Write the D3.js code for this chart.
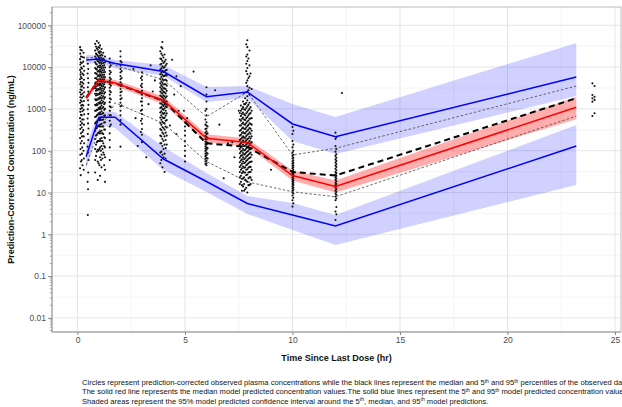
<!DOCTYPE html>
<html><head><meta charset="utf-8">
<script src="https://cdn.jsdelivr.net/npm/d3@7"></script>
<style>body{margin:0;background:#fff;} svg{display:block;font-family:"Liberation Sans",Arial,sans-serif;}</style>
</head><body><svg id="c" width="622" height="407"></svg>
<script>
// ---------------- data ----------------
const binTimes     = [0.4, 1.0, 1.75, 4, 6, 7.9, 10, 12, 23.2];
const predMedian   = [1820, 4900, 4170, 1590, 198, 157, 25.5, 13.9, 1090];
const predMedianLo = [1540, 4150, 3530, 1276, 159, 126, 19.4, 10, 565];
const predMedianHi = [2150, 5780, 4920, 1980, 247, 196, 33.6, 19.3, 1960];
const pred95       = [14800, 15600, 12200, 7850, 1960, 2540, 436, 216, 5800];
const pred95Lo     = [11860, 12530, 9360, 6130, 1460, 1820, 171, 83.4, 2040];
const pred95Hi     = [19450, 18900, 14800, 11220, 3340, 3530, 1310, 640, 37700];
const pred5        = [71.8, 630, 630, 63.3, 18.3, 5.45, 2.9, 1.58, 129];
const pred5Lo      = [34.5, 412, 349, 34.5, 10.3, 3.06, 1.27, 0.555, 15.1];
const pred5Hi      = [136.8, 891, 843, 123, 29.3, 8.24, 5.61, 2.9, 412];
const obsMedian    = [1850, 4850, 4100, 1560, 150, 123, 31, 25.5, 1800];
const obs95        = [16500, 17500, 11000, 5000, 650, 2540, 79, 114, 3530];
const obs5         = [45, 300, 1400, 450, 55, 18, 10.4, 7.9, 673];

// observed prediction-corrected concentrations [time, conc]
const obsA = [[0.12,30000],[0.14,26000],[0.13,21000],[0.16,18000],[0.12,15500],[0.15,13000],[0.13,11500],[0.17,9800],[0.12,8600],[0.15,7600],[0.14,6600],[0.16,5800],[0.12,5100],[0.15,4400],[0.13,3900],[0.17,3400],[0.14,2900],[0.12,2500],[0.16,2200],[0.13,1900],[0.15,1600],[0.12,1400],[0.17,1200],[0.14,1000],[0.13,850],[0.16,720],[0.12,600],[0.15,500],[0.14,410],[0.13,330],[0.16,260],[0.12,200],[0.15,150],[0.14,110],[0.13,80],[0.16,55],[0.12,38],[0.15,26],
  [0.28,22000],[0.3,17000],[0.27,13500],[0.29,10500],[0.31,8200],[0.28,6500],[0.3,5000],[0.27,4000],[0.29,3200],[0.31,2500],[0.28,2000],[0.3,1550],[0.27,1200],[0.29,950],[0.31,740],[0.28,560],[0.3,420],[0.27,310],[0.29,220],[0.31,150],[0.28,100],[0.3,65],[0.29,35]];
const obsA2 = [[0.2,25000],[0.22,17500],[0.2,12500],[0.21,9200],[0.23,7000],[0.2,5400],[0.22,4300],[0.21,3500],[0.2,2800],[0.23,2300],[0.21,1850],[0.2,1500],[0.22,1250],[0.21,1050],[0.23,880],[0.2,700],[0.22,560],[0.21,450],[0.2,360],[0.23,280],[0.21,220],[0.2,170],[0.22,120],[0.21,85],[0.2,60],[0.23,45]];
const obsB = [[0.48,12000],[0.5,9000],[0.47,7000],[0.49,5400],[0.51,4200],[0.48,3300],[0.5,2600],[0.47,2000],[0.49,1600],[0.51,1250],[0.48,980],[0.5,760],[0.47,590],[0.49,450],[0.51,340],[0.48,250],[0.5,180],[0.47,125],[0.49,90],[0.5,30],[0.47,18],[0.49,12],[0.48,2.9],[0.52,60]];
const obsC = [[0.82,36000],[0.82,25000],[0.82,18000],[0.82,13000],[0.82,9500],[0.82,7200],[0.82,5400],[0.82,4100],[0.82,3100],[0.82,2300],[0.82,1700],[0.82,1250],[0.82,900],[0.82,640],[0.82,450],[0.82,300],[0.82,190],[0.82,110],[0.82,60],[0.82,30],
  [0.9,42000],[0.9,28000],[0.9,20000],[0.9,15000],[0.9,11500],[0.9,8800],[0.9,6800],[0.9,5200],[0.9,4000],[0.9,3000],[0.9,2300],[0.9,1700],[0.9,1300],[0.9,950],[0.9,700],[0.9,500],[0.9,350],[0.9,240],[0.9,160],[0.9,95],
  [0.98,38000],[0.98,30000],[0.98,23000],[0.98,17500],[0.98,13500],[0.98,10500],[0.98,8200],[0.98,6400],[0.98,5000],[0.98,3900],[0.98,3000],[0.98,2300],[0.98,1800],[0.98,1400],[0.98,1050],[0.98,780],[0.98,560],[0.98,400],[0.98,270],[0.98,170],[0.98,100],[0.98,50],
  [1.05,33000],[1.05,24000],[1.05,19000],[1.05,14500],[1.05,11000],[1.05,8600],[1.05,6700],[1.05,5200],[1.05,4100],[1.05,3200],[1.05,2500],[1.05,1900],[1.05,1450],[1.05,1100],[1.05,820],[1.05,600],[1.05,420],[1.05,290],[1.05,190],[1.05,120],[1.05,70],[1.05,25],
  [1.12,27000],[1.12,20000],[1.12,15500],[1.12,12000],[1.12,9300],[1.12,7300],[1.12,5700],[1.12,4500],[1.12,3500],[1.12,2700],[1.12,2100],[1.12,1600],[1.12,1200],[1.12,880],[1.12,630],[1.12,440],[1.12,300],[1.12,200],[1.12,130],[1.12,80],[1.12,40],
  [1.2,22000],[1.2,16000],[1.2,12500],[1.2,9700],[1.2,7500],[1.2,5800],[1.2,4500],[1.2,3500],[1.2,2700],[1.2,2000],[1.2,1500],[1.2,1100],[1.2,800],[1.2,560],[1.2,380],[1.2,250],[1.2,150],[1.2,90],
  [1.28,18000],[1.28,13000],[1.28,9800],[1.28,7600],[1.28,5800],[1.28,4400],[1.28,3300],[1.28,2500],[1.28,1900],[1.28,1400],[1.28,1000],[1.28,700],[1.28,480],[1.28,320],[1.28,200],[1.28,120],[1.28,70],[1.28,35],[1.28,18]];
const obsC2 = [[0.86,31000],[0.86,21000],[0.86,16000],[0.86,12000],[0.86,9000],[0.86,7000],[0.86,5500],[0.86,4300],[0.86,3400],[0.86,2700],[0.86,2100],[0.86,1600],[0.86,1200],[0.86,900],[0.86,660],[0.86,480],[0.86,340],[0.86,230],[0.86,140],[0.86,75],
  [0.94,26000],[0.94,19000],[0.94,14000],[0.94,10000],[0.94,7800],[0.94,6000],[0.94,4600],[0.94,3600],[0.94,2800],[0.94,2150],[0.94,1650],[0.94,1250],[0.94,950],[0.94,720],[0.94,530],[0.94,380],[0.94,260],[0.94,170],[0.94,105],[0.94,55],[0.94,20],
  [1.02,29000],[1.02,21500],[1.02,16500],[1.02,12500],[1.02,9800],[1.02,7700],[1.02,6000],[1.02,4700],[1.02,3700],[1.02,2900],[1.02,2250],[1.02,1750],[1.02,1350],[1.02,1000],[1.02,750],[1.02,540],[1.02,380],[1.02,260],[1.02,170],[1.02,110],[1.02,45],
  [1.09,23000],[1.09,17000],[1.09,13000],[1.09,10000],[1.09,7900],[1.09,6200],[1.09,4900],[1.09,3800],[1.09,3000],[1.09,2350],[1.09,1800],[1.09,1350],[1.09,1000],[1.09,740],[1.09,540],[1.09,380],[1.09,260],[1.09,170],[1.09,100],[1.09,60],
  [1.16,19000],[1.16,14000],[1.16,10800],[1.16,8400],[1.16,6500],[1.16,5100],[1.16,4000],[1.16,3100],[1.16,2400],[1.16,1850],[1.16,1400],[1.16,1050],[1.16,770],[1.16,550],[1.16,380],[1.16,260],[1.16,170],[1.16,110],[1.16,65],
  [1.24,15000],[1.24,11000],[1.24,8500],[1.24,6600],[1.24,5100],[1.24,3900],[1.24,3000],[1.24,2300],[1.24,1750],[1.24,1300],[1.24,950],[1.24,680],[1.24,470],[1.24,320],[1.24,210],[1.24,130],[1.24,80],[1.24,45]];
const obsD = [[1.5,16000],[1.5,12500],[1.5,10000],[1.5,8200],[1.5,6800],[1.5,5600],[1.5,4700],[1.5,3900],[1.5,3200],[1.5,2700],[1.5,2200],[1.5,1800],[1.5,1450],[1.5,1150],[1.5,900],[1.5,700],[1.5,520],[1.5,380],[1.5,260],[1.5,180],[1.5,120],[1.5,60],
  [1.55,11000],[1.55,7500],[1.55,5200],[1.55,3600],[1.55,2500],[1.55,1700],[1.55,1100],[1.55,700],[1.55,420]];
const obsE = [[2.0,24000],[2.0,18000],[2.0,14000],[2.0,11000],[2.0,9000],[2.0,7400],[2.0,6100],[2.0,5100],[2.0,4300],[2.0,3600],[2.0,3000],[2.0,2500],[2.0,2100],[2.0,1700],[2.0,1400],[2.0,1150],[2.0,900],[2.0,700],[2.0,540],[2.0,420],[2.0,125],
  [2.05,13000],[2.05,8000],[2.05,5500],[2.05,3800],[2.05,2600],[2.05,1800],[2.05,1200]];
const obsF = [[3.0,7500],[3.0,6000],[3.0,4900],[3.0,4000],[3.0,3300],[3.0,2700],[3.0,2200],[3.0,1800],[3.0,1500],[3.0,1200],[3.0,950],[3.0,750],[3.0,580],[3.0,440],[3.0,330],[3.0,240],[3.0,160],
  [2.95,5500],[2.95,3600],[2.95,2400],[2.95,1500],[2.95,900],[2.95,520],[2.95,280],
  [2.6,9000],[3.4,11000],[2.7,600],[3.3,1300],[3.5,2600],[2.8,130],[3.2,70],[3.6,4800],[2.5,3000]];
const obsG = [[3.85,24000],[3.85,16000],[3.85,11500],[3.85,8700],[3.85,6700],[3.85,5200],[3.85,4100],[3.85,3300],[3.85,2600],[3.85,2100],[3.85,1700],[3.85,1350],[3.85,1050],[3.85,820],[3.85,620],[3.85,460],[3.85,330],[3.85,230],[3.85,150],[3.85,90],[3.85,50],
  [3.95,40000],[3.95,28000],[3.95,19000],[3.95,14000],[3.95,10500],[3.95,8200],[3.95,6500],[3.95,5200],[3.95,4200],[3.95,3400],[3.95,2800],[3.95,2300],[3.95,1900],[3.95,1550],[3.95,1250],[3.95,1000],[3.95,800],[3.95,630],[3.95,490],[3.95,370],[3.95,270],[3.95,190],[3.95,130],[3.95,80],[3.95,40],
  [4.05,20000],[4.05,13500],[4.05,10000],[4.05,7800],[4.05,6100],[4.05,4900],[4.05,3900],[4.05,3100],[4.05,2500],[4.05,2000],[4.05,1600],[4.05,1300],[4.05,1030],[4.05,800],[4.05,610],[4.05,450],[4.05,320],[4.05,220],[4.05,140],[4.05,85],[4.05,31],
  [4.15,12000],[4.15,8500],[4.15,6300],[4.15,4700],[4.15,3600],[4.15,2700],[4.15,2000],[4.15,1500],[4.15,1100],[4.15,780],[4.15,540],[4.15,360],[4.15,230],[4.15,140],
  [4.4,15000],[4.6,6000],[4.5,2200],[4.7,900],[4.3,400],[4.8,3500],[4.6,250]];
const obsG2 = [[3.9,30000],[3.9,21000],[3.9,15500],[3.9,12000],[3.9,9300],[3.9,7300],[3.9,5800],[3.9,4600],[3.9,3700],[3.9,3000],[3.9,2450],[3.9,2000],[3.9,1650],[3.9,1350],[3.9,1100],[3.9,880],[3.9,700],[3.9,550],[3.9,420],[3.9,310],[3.9,220],[3.9,150],[3.9,95],[3.9,60],
  [4.0,17000],[4.0,12500],[4.0,9600],[4.0,7600],[4.0,6000],[4.0,4800],[4.0,3850],[4.0,3100],[4.0,2550],[4.0,2100],[4.0,1750],[4.0,1450],[4.0,1180],[4.0,950],[4.0,760],[4.0,600],[4.0,460],[4.0,350],[4.0,250],[4.0,170],[4.0,110],[4.0,70],
  [4.1,15000],[4.1,11000],[4.1,8400],[4.1,6500],[4.1,5000],[4.1,3900],[4.1,3000],[4.1,2350],[4.1,1850],[4.1,1450],[4.1,1150],[4.1,900],[4.1,690],[4.1,520],[4.1,380],[4.1,270],[4.1,180],[4.1,115],[4.1,65]];
const obsH = [[5.0,480],[5.0,380],[5.0,300],[5.0,230],[5.0,170],[5.0,130],[5.0,100],[5.0,75],[5.0,55],[5.1,600],[4.95,900],[5.4,7800]];
const obsI = [[6.0,3300],[6.0,2200],[6.0,1500],[6.0,1000],[6.0,700],[6.0,480],[6.0,400],[6.0,340],[6.0,290],[6.0,250],[6.0,215],[6.0,185],[6.0,160],[6.0,140],[6.0,120],[6.0,105],[6.0,90],[6.0,78],[6.0,68],[6.0,58],[6.0,50],[6.0,45],
  [6.05,380],[6.05,260],[6.05,200],[6.05,150],[6.05,115],[6.05,85],[6.05,65],
  [5.95,900],[5.95,560],[5.95,420],[5.95,330],[5.95,270],[5.95,225],[5.95,190],[5.95,165],[5.95,145],[5.95,128],[5.95,112],[5.95,98],[5.95,85],[5.95,74],[5.95,64],[5.95,55],[5.95,48],
  [6.6,420],[7.0,150],[7.2,160],[6.8,22],[7.3,70],[7.5,900],[6.4,2800]];
const obsJ = [[7.9,44000],[7.9,30000],[7.9,20000],[7.9,14000],[7.9,9500],[7.9,6800],[7.9,4800],[7.9,3500],[7.9,2600],[7.9,2000],
  [7.6,1200],[7.6,900],[7.6,680],[7.6,520],[7.6,400],[7.6,310],[7.6,240],[7.6,190],[7.6,150],[7.6,120],[7.6,95],[7.6,75],[7.6,58],[7.6,45],[7.6,35],[7.6,25],[7.6,18],
  [7.7,1500],[7.7,1100],[7.7,820],[7.7,620],[7.7,470],[7.7,360],[7.7,280],[7.7,220],[7.7,175],[7.7,140],[7.7,110],[7.7,88],[7.7,70],[7.7,55],[7.7,42],[7.7,32],[7.7,22],[7.7,14],
  [7.8,1800],[7.8,1300],[7.8,950],[7.8,700],[7.8,540],[7.8,420],[7.8,330],[7.8,260],[7.8,205],[7.8,165],[7.8,130],[7.8,105],[7.8,84],[7.8,66],[7.8,52],[7.8,40],[7.8,30],[7.8,20],[7.8,12],
  [7.9,1600],[7.9,1150],[7.9,850],[7.9,640],[7.9,500],[7.9,390],[7.9,305],[7.9,240],[7.9,190],[7.9,150],[7.9,120],[7.9,96],[7.9,76],[7.9,60],[7.9,47],[7.9,36],[7.9,27],[7.9,18],[7.9,10],
  [8.0,2200],[8.0,1400],[8.0,1000],[8.0,760],[8.0,580],[8.0,450],[8.0,350],[8.0,275],[8.0,215],[8.0,170],[8.0,135],[8.0,108],[8.0,85],[8.0,67],[8.0,53],[8.0,41],[8.0,31],[8.0,23],[8.0,15],
  [8.1,900],[8.1,600],[8.1,420],[8.1,300],[8.1,220],[8.1,160],[8.1,115],[8.1,80],[8.1,55],[8.1,35],[8.1,20],
  [8.05,7000],[7.95,5500],[8.1,3000],[7.85,12000],[8.0,25000],[7.75,2400],[9.0,35]];
const obsJ2 = [[7.55,800],[7.55,560],[7.55,400],[7.55,300],[7.55,230],[7.55,180],[7.55,140],[7.55,110],[7.55,87],[7.55,68],[7.55,53],[7.55,41],[7.55,31],[7.55,23],[7.55,16],
  [7.65,1000],[7.65,760],[7.65,580],[7.65,440],[7.65,340],[7.65,265],[7.65,205],[7.65,160],[7.65,126],[7.65,100],[7.65,79],[7.65,62],[7.65,49],[7.65,38],[7.65,29],[7.65,21],[7.65,15],[7.65,11],
  [7.75,1300],[7.75,980],[7.75,740],[7.75,560],[7.75,430],[7.75,335],[7.75,260],[7.75,205],[7.75,162],[7.75,128],[7.75,101],[7.75,80],[7.75,63],[7.75,50],[7.75,39],[7.75,30],[7.75,23],[7.75,16],[7.75,11],
  [7.85,1400],[7.85,1050],[7.85,790],[7.85,600],[7.85,460],[7.85,360],[7.85,285],[7.85,225],[7.85,178],[7.85,142],[7.85,113],[7.85,90],[7.85,72],[7.85,57],[7.85,45],[7.85,35],[7.85,26],[7.85,19],[7.85,13],
  [7.95,1250],[7.95,930],[7.95,700],[7.95,530],[7.95,410],[7.95,320],[7.95,250],[7.95,198],[7.95,157],[7.95,125],[7.95,100],[7.95,80],[7.95,64],[7.95,50],[7.95,39],[7.95,30],[7.95,22],[7.95,15],
  [8.05,1100],[8.05,800],[8.05,590],[8.05,440],[8.05,335],[8.05,255],[8.05,195],[8.05,150],[8.05,116],[8.05,90],[8.05,70],[8.05,54],[8.05,41],[8.05,31],[8.05,23],[8.05,16],
  [7.85,35000],[7.85,18000],[7.85,8000],[7.85,4200],[8.0,11000],[8.0,6000],[8.0,3200],[7.95,16000],[7.95,2800]];
const obsK = [[10.0,370],[10.0,250],[10.0,170],[10.0,120],[10.0,90],[10.0,75],[10.0,65],[10.0,56],[10.0,49],[10.0,43],[10.0,38],[10.0,33],[10.0,29],[10.0,26],[10.0,23],[10.0,20],[10.0,18],[10.0,16],[10.0,14],[10.0,12.5],[10.0,11],[10.0,10],[10.0,8.5],[10.0,6.5],[10.0,4.6],
  [10.04,300],[10.04,140],[10.04,100],[10.04,80],[10.04,68],[10.04,59],[10.04,51],[10.04,45],[10.04,40],[10.04,35],[10.04,31],[10.04,27.5],[10.04,24.5],[10.04,21.5],[10.04,19],[10.04,17],[10.04,15],[10.04,13],[10.04,11.5],[10.04,9.5],[10.04,7.5],[10.04,5.5]];
const obsL = [[12.0,270],[12.0,190],[12.0,130],[12.0,95],[12.0,75],[12.0,62],[12.0,52],[12.0,44],[12.0,37],[12.0,31],[12.0,27],[12.0,23],[12.0,20],[12.0,17],[12.0,15],[12.0,13],[12.0,11],[12.0,9.5],[12.0,8],[12.0,6.5],[12.0,3.5],[12.0,2.2],[12.3,2400],
  [12.04,210],[12.04,110],[12.04,82],[12.04,68],[12.04,57],[12.04,48],[12.04,41],[12.04,34],[12.04,29],[12.04,25],[12.04,21.5],[12.04,18.5],[12.04,16],[12.04,14],[12.04,12],[12.04,10.3],[12.04,8.8],[12.04,7.2],[12.04,4.5],[12.04,3]];
const obsM = [[23.95,4090],[24.05,3540],[23.95,2150],[24.05,1950],[23.95,1800],[24.05,1640],[23.95,1490],[24.05,785],[23.95,676]];

const xTicks = [0, 5, 10, 15, 20, 25];
const yTicks = [0.01, 0.1, 1, 10, 100, 1000, 10000, 100000];
const yTickLabels = ["0.01", "0.1", "1", "10", "100", "1000", "10000", "100000"];
const xTitle = "Time Since Last Dose (hr)";
const yTitle = "Prediction-Corrected Concentration (ng/mL)";
const captionLines = [
  "Circles represent prediction-corrected observed plasma concentrations while the black lines represent the median and 5{th} and 95{th} percentiles of the observed data.",
  "The solid red line represents the median model predicted concentration values.The solid blue lines represent the 5{th} and 95{th} model predicted concentration values.",
  "Shaded areas represent the 95% model predicted confidence interval around the 5{th}, median, and 95{th} model predictions."
];

// ---------------- drawing ----------------
const svg = d3.select("#c");
const L = 52, R = 621, T = 7, B = 332;
const x = d3.scaleLinear().domain([-1.186, 25.28]).range([L, R]);
const y = d3.scaleLog().domain([0.0046, 274000]).range([B, T]);

const g = svg.append("g");
const minorX = d3.range(0, 26, 2.5).filter(v => v % 5 !== 0);
const minorY = d3.range(-2, 5).map(k => Math.pow(10, k + 0.5));
g.selectAll(".gmx").data(minorX).join("line")
  .attr("x1", d => x(d)).attr("x2", d => x(d)).attr("y1", T).attr("y2", B)
  .attr("stroke", "#f2f2f2").attr("stroke-width", 0.8);
g.selectAll(".gmy").data(minorY).join("line")
  .attr("y1", d => y(d)).attr("y2", d => y(d)).attr("x1", L).attr("x2", R)
  .attr("stroke", "#f2f2f2").attr("stroke-width", 0.8);
g.selectAll(".gx").data(xTicks).join("line")
  .attr("x1", d => x(d)).attr("x2", d => x(d)).attr("y1", T).attr("y2", B)
  .attr("stroke", "#e6e6e6").attr("stroke-width", 1);
g.selectAll(".gy").data(yTicks).join("line")
  .attr("y1", d => y(d)).attr("y2", d => y(d)).attr("x1", L).attr("x2", R)
  .attr("stroke", "#e6e6e6").attr("stroke-width", 1);

const rows = binTimes.map((t, i) => ({t, m: predMedian[i], mlo: predMedianLo[i], mhi: predMedianHi[i],
  u: pred95[i], ulo: pred95Lo[i], uhi: pred95Hi[i], l: pred5[i], llo: pred5Lo[i], lhi: pred5Hi[i],
  om: obsMedian[i], o95: obs95[i], o5: obs5[i]}));

const area = (lo, hi) => d3.area().x(d => x(d.t)).y0(d => y(d[lo])).y1(d => y(d[hi]));
const line = key => d3.line().x(d => x(d.t)).y(d => y(d[key]));

svg.append("clipPath").attr("id", "pc").append("rect")
  .attr("x", L).attr("y", T).attr("width", R - L).attr("height", B - T);
const p = svg.append("g").attr("clip-path", "url(#pc)");

p.append("path").datum(rows).attr("d", area("ulo", "uhi")).attr("fill", "rgba(0,0,255,0.18)");
p.append("path").datum(rows).attr("d", area("llo", "lhi")).attr("fill", "rgba(0,0,255,0.18)");
p.append("path").datum(rows).attr("d", area("mlo", "mhi")).attr("fill", "rgba(255,0,0,0.32)");

const pts = [].concat(obsA, obsA2, obsB, obsC, obsC2, obsD, obsE, obsF, obsG, obsG2, obsH, obsI, obsJ, obsJ2, obsK, obsL, obsM);
p.selectAll(".pt").data(pts).join("circle")
  .attr("cx", d => x(d[0])).attr("cy", d => y(d[1])).attr("r", 1.05)
  .attr("fill", "#111");

p.append("path").datum(rows).attr("d", line("o95")).attr("fill", "none").attr("stroke", "#444").attr("stroke-width", 0.8).attr("stroke-dasharray", "2.5,2");
p.append("path").datum(rows).attr("d", line("o5")).attr("fill", "none").attr("stroke", "#444").attr("stroke-width", 0.8).attr("stroke-dasharray", "2.5,2");
p.append("path").datum(rows).attr("d", line("om")).attr("fill", "none").attr("stroke", "#000").attr("stroke-width", 2).attr("stroke-dasharray", "6,4");
p.append("path").datum(rows).attr("d", line("u")).attr("fill", "none").attr("stroke", "#0000ff").attr("stroke-width", 1.5);
p.append("path").datum(rows).attr("d", line("l")).attr("fill", "none").attr("stroke", "#0000ff").attr("stroke-width", 1.5);
p.append("path").datum(rows).attr("d", line("m")).attr("fill", "none").attr("stroke", "#ff0000").attr("stroke-width", 1.5);

// panel border + axis lines
svg.append("rect").attr("x", L).attr("y", T).attr("width", R - L).attr("height", B - T)
  .attr("fill", "none").attr("stroke", "#bdbdbd").attr("stroke-width", 1);
svg.append("line").attr("x1", L).attr("x2", L).attr("y1", T).attr("y2", B).attr("stroke", "#999");
svg.append("line").attr("x1", L).attr("x2", R).attr("y1", B).attr("y2", B).attr("stroke", "#999");

// y axis
const yAxis = d3.axisLeft(y).tickValues(yTicks).tickFormat((d, i) => yTickLabels[i]).tickSize(4).tickPadding(2);
const ya = svg.append("g").attr("transform", `translate(${L},0)`).call(yAxis);
ya.select(".domain").remove();
ya.selectAll("line").attr("stroke", "#888");
ya.selectAll("text").attr("fill", "#4d4d4d").style("font-size", "8.5px").style("font-family", "'Liberation Sans',Arial,sans-serif");
const minorLog = [];
for (let k = -3; k <= 5; k++) for (let m = 2; m <= 9; m++) { const v = m * Math.pow(10, k); if (v > 0.0046 && v < 274000) minorLog.push(v); }
svg.selectAll(".mt").data(minorLog).join("line")
  .attr("x1", L - 2.2).attr("x2", L).attr("y1", d => y(d)).attr("y2", d => y(d))
  .attr("stroke", "#888").attr("stroke-width", 0.7);

// x axis
const xAxis = d3.axisBottom(x).tickValues(xTicks).tickFormat(d3.format("d")).tickSize(3).tickPadding(2);
const xa = svg.append("g").attr("transform", `translate(0,${B})`).call(xAxis);
xa.select(".domain").remove();
xa.selectAll("line").attr("stroke", "#888");
xa.selectAll("text").attr("fill", "#4d4d4d").style("font-size", "8.5px").style("font-family", "'Liberation Sans',Arial,sans-serif");

// titles
svg.append("text").attr("x", (L + R) / 2).attr("y", 361).attr("text-anchor", "middle")
  .style("font-size", "9px").style("font-weight", "bold").attr("fill", "#111").text(xTitle);
svg.append("text").attr("transform", `translate(14,${(T + B) / 2}) rotate(-90)`).attr("text-anchor", "middle")
  .style("font-size", "9px").style("font-weight", "bold").attr("fill", "#111").text(yTitle);

// caption with superscripts
captionLines.forEach((ln, i) => {
  const t = svg.append("text").attr("x", 82).attr("y", 385 + i * 9.4).style("font-size", "7.6px").attr("fill", "#111");
  let afterSup = false;
  ln.split(/(\{th\})/).forEach(part => {
    if (part === "") return;
    if (part === "{th}") { t.append("tspan").attr("dy", -2.5).style("font-size", "5px").text("th"); afterSup = true; }
    else { const s = t.append("tspan").text(part); if (afterSup) s.attr("dy", 2.5); afterSup = false; }
  });
});
</script></body></html>
